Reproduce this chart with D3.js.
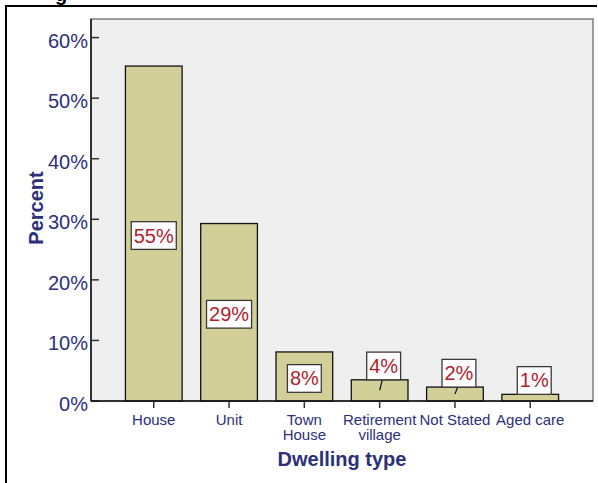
<!DOCTYPE html>
<html>
<head>
<meta charset="utf-8">
<script src="https://cdn.jsdelivr.net/npm/d3@7"></script>
<style>
  html, body { margin: 0; padding: 0; background: #fff; }
  svg { display: block; font-family: "Liberation Sans", Arial, sans-serif; }
</style>
</head>
<body>
<svg id="chart" width="598" height="483"></svg>
<script>
// chart data
const categories = ['House', 'Unit', 'Town House', 'Retirement village', 'Not Stated', 'Aged care'];
const tickLines = [['House'], ['Unit'], ['Town', 'House'], ['Retirement', 'village'], ['Not Stated'], ['Aged care']];
const percents = [55.3, 29.3, 8.1, 3.5, 2.3, 1.1];
const yTicks = [0, 10, 20, 30, 40, 50, 60];

const navy = '#2c3079';
const barFill = '#d3cf98';
const labelRed = '#b3202a';

const svg = d3.select('#chart');

// plot box
const plot = {left: 91, right: 593, top: 19, bottom: 401};

const x = d3.scaleBand()
  .domain(categories)
  .range([plot.left, plot.right])
  .paddingInner(0.247)
  .paddingOuter(0.457);

const y = d3.scaleLinear()
  .domain([0, 60])
  .range([plot.bottom, 37.6]);

// clipped title descender and outer frame
svg.append('text')
  .attr('x', 55).attr('y', 1)
  .attr('font-size', 20).attr('font-weight', 'bold')
  .attr('fill', '#000')
  .text('g');

svg.append('line')
  .attr('x1', 5).attr('x2', 597).attr('y1', 6).attr('y2', 6)
  .attr('stroke', '#000').attr('stroke-width', 2);
svg.append('line')
  .attr('x1', 6).attr('x2', 6).attr('y1', 5).attr('y2', 483)
  .attr('stroke', '#000').attr('stroke-width', 2);

// plot background
svg.append('rect')
  .attr('x', plot.left).attr('y', plot.top)
  .attr('width', plot.right - plot.left).attr('height', plot.bottom - plot.top)
  .attr('fill', '#efefef')
  .attr('stroke', '#6a6a6a').attr('stroke-width', 1.3);

// bars
svg.append('g').selectAll('rect')
  .data(categories)
  .join('rect')
  .attr('x', d => x(d))
  .attr('y', (d, i) => y(percents[i]))
  .attr('width', x.bandwidth())
  .attr('height', (d, i) => y(0) - y(percents[i]))
  .attr('fill', barFill)
  .attr('stroke', '#111')
  .attr('stroke-width', 1.3);

// y axis: ticks point into the plot
const yAxis = svg.append('g').attr('class', 'y-axis');
yAxis.append('line')
  .attr('x1', plot.left).attr('x2', plot.left)
  .attr('y1', plot.top).attr('y2', plot.bottom)
  .attr('stroke', '#111').attr('stroke-width', 1.5);
yAxis.selectAll('.tick')
  .data(yTicks)
  .join('line')
  .attr('x1', plot.left).attr('x2', plot.left + 8)
  .attr('y1', d => y(d)).attr('y2', d => y(d))
  .attr('stroke', '#333').attr('stroke-width', 1.5);
yAxis.selectAll('text')
  .data(yTicks)
  .join('text')
  .attr('x', 88)
  .attr('y', d => y(d) + 10)
  .attr('text-anchor', 'end')
  .attr('font-size', 20)
  .attr('fill', navy)
  .text(d => d + '%');

// x axis
const xAxis = svg.append('g').attr('class', 'x-axis');
xAxis.append('line')
  .attr('x1', plot.left).attr('x2', plot.right)
  .attr('y1', plot.bottom).attr('y2', plot.bottom)
  .attr('stroke', '#111').attr('stroke-width', 1.5);
xAxis.selectAll('.tick')
  .data(categories)
  .join('line')
  .attr('x1', d => x(d) + x.bandwidth() / 2).attr('x2', d => x(d) + x.bandwidth() / 2)
  .attr('y1', plot.bottom).attr('y2', plot.bottom + 7)
  .attr('stroke', '#333').attr('stroke-width', 1.5);
const xLabels = xAxis.selectAll('text')
  .data(categories)
  .join('text')
  .attr('text-anchor', 'middle')
  .attr('font-size', 15)
  .attr('fill', navy);
xLabels.selectAll('tspan')
  .data((d, i) => tickLines[i].map(t => ({t: t, cx: x(d) + x.bandwidth() / 2})))
  .join('tspan')
  .attr('x', d => d.cx)
  .attr('y', (d, j) => 425 + j * 15)
  .text(d => d.t);

// axis titles
svg.append('text')
  .attr('x', (plot.left + plot.right) / 2)
  .attr('y', 466)
  .attr('text-anchor', 'middle')
  .attr('font-size', 20).attr('font-weight', 'bold')
  .attr('fill', navy)
  .text('Dwelling type');

svg.append('text')
  .attr('transform', 'translate(43,208) rotate(-90)')
  .attr('text-anchor', 'middle')
  .attr('font-size', 20).attr('font-weight', 'bold')
  .attr('fill', navy)
  .text('Percent');

// value labels: inside the bar when it fits, otherwise sat on top with a leader
const boxH = 27.7;
const labels = svg.append('g').attr('class', 'labels');
categories.forEach((c, i) => {
  const txt = Math.round(percents[i]) + '%';
  const cx = x(c) + x.bandwidth() / 2;
  const top = y(percents[i]);
  const mid = (top + y(0)) / 2;
  const g = labels.append('g');
  const t = g.append('text')
    .attr('font-size', 20)
    .attr('fill', labelRed)
    .attr('text-anchor', 'middle')
    .text(txt);
  const w = t.node().getComputedTextLength() + 5;

  let bx, by;
  if (y(0) - top > boxH + 8) {
    bx = cx;
    by = mid + 2;
  } else {
    bx = cx + 4;
    by = top - boxH / 2;
    if (mid - top > 5) {
      g.append('line')
        .attr('x1', cx + 2.5).attr('y1', top + 0.7)
        .attr('x2', cx).attr('y2', mid)
        .attr('stroke', '#111').attr('stroke-width', 1.2);
    }
  }
  g.insert('rect', 'text')
    .attr('x', bx - w / 2).attr('y', by - boxH / 2)
    .attr('width', w).attr('height', boxH)
    .attr('fill', '#fff')
    .attr('stroke', '#3a3a3a').attr('stroke-width', 1.3);
  t.attr('x', bx).attr('y', by + 7);
});
</script>
</body>
</html>
